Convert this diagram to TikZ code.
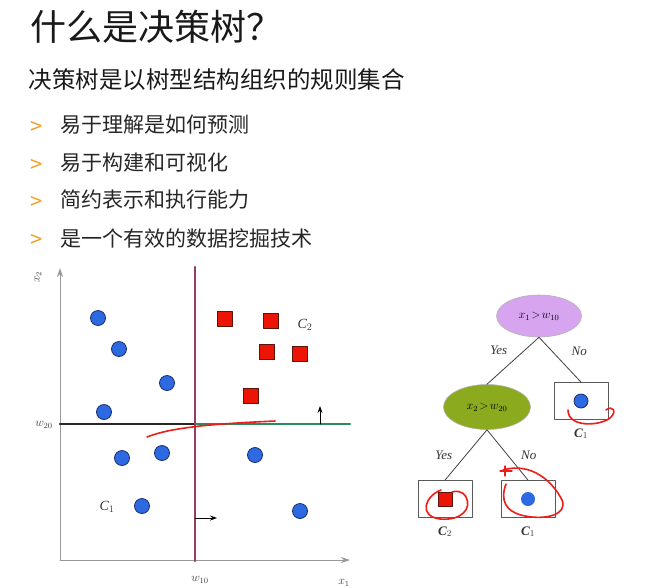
\documentclass[tikz,border=0pt]{standalone}
\usepackage{fontspec}
\setmainfont{Liberation Serif}
\newfontfamily\cjk{Noto Sans CJK SC}
\usetikzlibrary{arrows.meta,positioning,shapes.geometric}

\definecolor{dotblue}{RGB}{45,105,225}
\definecolor{dotedge}{RGB}{25,45,110}
\definecolor{sqred}{RGB}{235,20,5}
\definecolor{sqedge}{RGB}{90,20,10}
\definecolor{splitpurple}{RGB}{145,60,105}
\definecolor{splitgreen}{RGB}{40,140,95}
\definecolor{rootfill}{RGB}{215,165,240}
\definecolor{midfill}{RGB}{140,170,30}
\definecolor{bulletorange}{RGB}{240,160,40}
\definecolor{inkred}{RGB}{235,30,25}

\tikzset{
  bluedot/.style={circle, fill=dotblue, draw=dotedge, line width=0.8pt, inner sep=0pt, minimum size=15},
  redsq/.style={rectangle, fill=sqred, draw=sqedge, line width=0.8pt, inner sep=0pt, minimum size=15},
  leafbox/.style={rectangle, draw=gray!70!black, line width=0.8pt, fill=white, minimum width=54, minimum height=37, inner sep=0pt},
  decision/.style={ellipse, draw=gray!60, line width=0.6pt, inner sep=0pt, font=\fontsize{11.5}{13}\selectfont},
  edgelbl/.style={font=\itshape\fontsize{13}{15}\selectfont, text=black!80},
  classlbl/.style={font=\bfseries\fontsize{13}{15}\selectfont, text=black!80},
  axislbl/.style={font=\fontsize{12}{14}\selectfont, text=black!75},
  bullettext/.style={anchor=west, font=\cjk\fontsize{21}{24}\selectfont, text=black!85},
  ink/.style={draw=inkred, line width=1.6pt}
}

\begin{document}
\begin{tikzpicture}[x=1pt, y=-1pt, line cap=round, line join=round, >=Stealth]
  \useasboundingbox (0,0) rectangle (650,587);

  % heading
  \node[anchor=west, font=\cjk\fontsize{36}{42}\selectfont, text=black!90] (title) at (27,27) {什么是决策树？};
  \node[anchor=west, font=\cjk\fontsize{23.5}{28}\selectfont, text=black!90] (subtitle) at (25,80) {决策树是以树型结构组织的规则集合};
  \foreach \txt/\yy [count=\i] in {易于理解是如何预测/125, 易于构建和可视化/163, 简约表示和执行能力/200, 是一个有效的数据挖掘技术/238}
  {
    \node[anchor=west, font=\cjk\fontsize{22}{24}\selectfont, text=bulletorange] (mark\i) at (27,\yy+3) {>};
    \node[bullettext] (item\i) at (57,\yy) {\txt};
  }

  % feature space
  \coordinate (orig) at (60,560);
  \coordinate (xend) at (350,560);
  \coordinate (yend) at (60,268);
  \draw[gray!80, line width=1pt, -{Stealth[length=9pt,width=6pt]}] (orig) -- (xend);
  \draw[gray!80, line width=1pt, -{Stealth[length=9pt,width=6pt]}] (orig) -- (yend);
  \node[axislbl, rotate=90] (xtwo) at (38,277) {$x_2$};
  \node[axislbl] (xone) at (344,583) {$x_1$};
  \node[axislbl] (wten) at (200,580) {$w_{10}$};
  \node[axislbl] (wtwenty) at (44,425) {$w_{20}$};

  \coordinate (vtop) at (195,267);
  \coordinate (vbot) at (195,561);
  \coordinate (hleft) at (60,424);
  \coordinate (hmid) at (195,424);
  \coordinate (hright) at (350,424);
  \draw[black!85, line width=2.6pt] (hleft) -- (hmid);
  \draw[splitgreen, line width=2.8pt] (hmid) -- (hright);
  \draw[splitpurple, line width=2.8pt] (vtop) -- (vbot);

  \coordinate (upfoot) at (320,424);
  \coordinate (uphead) at (320,406);
  \coordinate (rtfoot) at (195,518);
  \coordinate (rthead) at (217,518);
  \draw[line width=0.8pt, -{Stealth[length=7pt,width=5pt]}] (upfoot) -- (uphead);
  \draw[line width=0.8pt, -{Stealth[length=7pt,width=5pt]}] (rtfoot) -- (rthead);

  \foreach \px/\py [count=\i] in {98/318, 119/349, 167/383, 104/412, 122/458, 162/453, 255/455, 142/506, 300/511}
    \node[bluedot] (pt\i) at (\px,\py) {};
  \foreach \px/\py [count=\i] in {225/319, 271/321, 267/352, 300/354, 251/396}
    \node[redsq] (sq\i) at (\px,\py) {};
  \node[classlbl, font=\itshape\fontsize{14}{16}\selectfont] (ctwo) at (305,325) {C$_2$};
  \node[classlbl, font=\itshape\fontsize{14}{16}\selectfont] (cone) at (107,507) {C$_1$};

  % hand ink on the plot
  \draw[ink] (147,437) .. controls (165,430) and (185,428) .. (200,426) .. controls (230,423) and (255,422) .. (275,421);

  % tree
  \node[decision, fill=rootfill, minimum width=85, minimum height=42] (root) at (539,316) {$x_1\!>\!w_{10}$};
  \node[decision, fill=midfill, minimum width=87, minimum height=45] (mid) at (487,407) {$x_2\!>\!w_{20}$};
  \node[leafbox] (leafR) at (581,401) {};
  \node[leafbox] (leafL) at (445,499) {};
  \node[leafbox] (leafM) at (528,499) {};
  \node[bluedot, minimum size=14] (dotR) at (leafR) {};
  \node[redsq, minimum size=14] (sqL) at (leafL) {};
  \node[bluedot, minimum size=14, draw=none] (dotM) at (leafM) {};

  \draw[black!75, line width=0.8pt] (root.south) -- node[edgelbl, above left=2pt and 2pt] (yes1) {Yes} (mid.north);
  \draw[black!75, line width=0.8pt] (root.south) -- node[edgelbl, above right=0pt and 8pt] (no1) {No} (leafR.north);
  \draw[black!75, line width=0.8pt] (mid.south) -- node[edgelbl, left=10pt] (yes2) {Yes} (leafL.north);
  \draw[black!75, line width=0.8pt] (mid.south) -- node[edgelbl, right=10pt] (no2) {No} (leafM.north);

  \node[classlbl, below=5pt of leafR] (labR) {\textit{C}$_1$};
  \node[classlbl, below=5pt of leafL] (labL) {\textit{C}$_2$};
  \node[classlbl, below=5pt of leafM] (labM) {\textit{C}$_1$};

  % hand ink on the tree
  \draw[ink] (568,410) .. controls (568,428) and (600,426) .. (610,418) .. controls (618,411) and (612,405) .. (606,410);
  \draw[ink] (441,490) .. controls (425,496) and (418,516) .. (440,519) .. controls (462,521) and (472,508) .. (466,497) .. controls (462,490) and (455,491) .. (452,492);
  \draw[ink] (503,470) .. controls (530,462) and (552,480) .. (562,500) .. controls (568,515) and (545,520) .. (525,516) .. controls (505,512) and (500,500) .. (506,484);
  \draw[ink, line width=1.3pt] (505,466) -- (505,476);
  \draw[ink, line width=1.3pt] (500,471) -- (512,471);
\end{tikzpicture}
\end{document}
